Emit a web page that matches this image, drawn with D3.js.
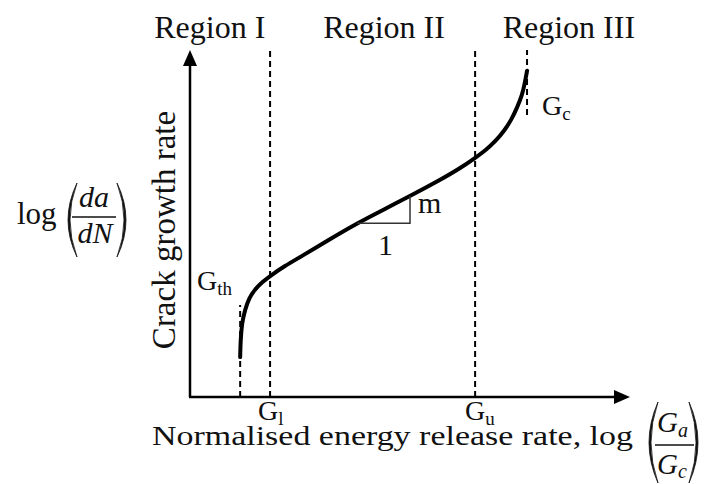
<!DOCTYPE html>
<html>
<head>
<meta charset="utf-8">
<script src="https://cdn.jsdelivr.net/npm/d3@7"></script>
<style>
  body { margin: 0; background: #fff; }
  text { font-family: "Liberation Serif", "DejaVu Serif", serif; fill: #111; }
</style>
</head>
<body>
<script>
// data (x = log(Ga/Gc), y = log(da/dN), arbitrary units 0..10)
var curveX = [1.14, 1.15, 1.18, 1.25, 1.34, 1.48, 1.64, 1.82, 2.16, 2.50, 3.18, 3.80, 4.43, 5.00, 5.68, 6.14, 6.48, 6.73, 6.95, 7.14, 7.30, 7.43, 7.55, 7.61, 7.66];
var curveY = [1.15, 1.64, 2.13, 2.51, 2.85, 3.11, 3.31, 3.49, 3.78, 4.03, 4.55, 5.01, 5.42, 5.79, 6.25, 6.59, 6.89, 7.12, 7.38, 7.67, 7.98, 8.33, 8.70, 9.05, 9.40];

var thresholdNames = ["th", "l", "u", "c"];
var thresholdX = [1.14, 1.82, 6.48, 7.66];
var thresholdY0 = [0, 0, 0, 8.13];
var thresholdY1 = [2.65, 10, 10, 10];

var regionNames = ["Region I", "Region II", "Region III"];
var regionX = [0.45, 4.41, 8.61];

var slopeX = [3.80, 5.00];
var slopeY = [5.01, 5.79];

var svg = d3.select("body").append("svg")
    .attr("width", 707)
    .attr("height", 484);

//Scales______________________________________________________________
var x = d3.scaleLinear().domain([0, 10]).range([190, 630]);
var y = d3.scaleLinear().domain([0, 10]).range([397, 50]);

//Axes with arrow heads_______________________________________________
svg.append("line")
    .attr("x1", x(0)).attr("y1", y(0))
    .attr("x2", x(0)).attr("y2", y(9.6))
    .attr("stroke", "#000").attr("stroke-width", 2.5);
svg.append("path")
    .attr("d", "M" + x(0) + "," + y(10) + " L" + (x(0) - 7) + "," + (y(10) + 16) + " L" + (x(0) + 7) + "," + (y(10) + 16) + "Z")
    .attr("fill", "#000");

svg.append("line")
    .attr("x1", x(0) - 1).attr("y1", y(0))
    .attr("x2", x(9.7)).attr("y2", y(0))
    .attr("stroke", "#000").attr("stroke-width", 2.5);
svg.append("path")
    .attr("d", "M" + x(10) + "," + y(0) + " L" + (x(10) - 16) + "," + (y(0) - 7) + " L" + (x(10) - 16) + "," + (y(0) + 7) + "Z")
    .attr("fill", "#000");

//Dashed threshold lines______________________________________________
thresholdX.forEach(function(tx, i) {
    svg.append("line")
        .attr("x1", x(tx)).attr("x2", x(tx))
        .attr("y1", y(thresholdY0[i])).attr("y2", y(thresholdY1[i]))
        .attr("stroke", "#000")
        .attr("stroke-width", 2)
        .attr("stroke-dasharray", "6,4");
});

//Curve_______________________________________________________________
var pts = curveX.map(function(d, i) { return [d, curveY[i]]; });
var line = d3.line()
    .x(function(d) { return x(d[0]); })
    .y(function(d) { return y(d[1]); })
    .curve(d3.curveBasis);

svg.append("path")
    .datum(pts)
    .attr("d", line)
    .attr("fill", "none")
    .attr("stroke", "#000")
    .attr("stroke-width", 4)
    .attr("stroke-linecap", "round");

//Slope triangle
svg.append("path")
    .attr("d", "M" + x(slopeX[0]) + "," + y(slopeY[0]) + " L" + x(slopeX[1]) + "," + y(slopeY[0]) + " L" + x(slopeX[1]) + "," + y(slopeY[1]))
    .attr("fill", "none")
    .attr("stroke", "#333")
    .attr("stroke-width", 1.5);

svg.append("text")
    .attr("x", x(slopeX[1]) + 8).attr("y", 213)
    .attr("font-size", "30px")
    .text("m");
svg.append("text")
    .attr("x", (x(slopeX[0]) + x(slopeX[1])) / 2 + 2).attr("y", 255)
    .attr("text-anchor", "middle")
    .attr("font-size", "30px")
    .text("1");

//Region labels________________________________________________________
svg.selectAll(".region")
    .data(regionNames)
    .enter().append("text")
    .attr("class", "region")
    .attr("x", function(d, i) { return x(regionX[i]); })
    .attr("y", 38)
    .attr("text-anchor", "middle")
    .attr("font-size", "32px")
    .text(function(d) { return d; });

//G labels
function gLabel(px, py, sub) {
    var t = svg.append("text")
        .attr("x", px).attr("y", py)
        .attr("font-size", "28px");
    t.append("tspan").text("G");
    t.append("tspan").attr("dy", 5).attr("font-size", "19px").text(sub);
}
gLabel(197, 290, thresholdNames[0]);
gLabel(x(thresholdX[1]) - 12, 420, thresholdNames[1]);
gLabel(x(thresholdX[2]) - 10, 420, thresholdNames[2]);
gLabel(542, 115, thresholdNames[3]);

//Y axis label_________________________________________________________
svg.append("text")
    .attr("transform", "translate(175,230) rotate(-90)")
    .attr("text-anchor", "middle")
    .attr("font-size", "33px")
    .text("Crack growth rate");

// log(da/dN)
function bigParens(x0, x1, top, bottom) {
    var mid = (top + bottom) / 2;
    svg.append("path")
        .attr("d", "M" + (x0 + 12) + "," + top + " Q" + (x0 - 6) + "," + mid + " " + (x0 + 12) + "," + bottom +
                   " Q" + (x0 - 2) + "," + mid + " " + (x0 + 12) + "," + top + "Z")
        .attr("fill", "#111").attr("stroke", "#111").attr("stroke-width", 0.8);
    svg.append("path")
        .attr("d", "M" + (x1 - 12) + "," + top + " Q" + (x1 + 6) + "," + mid + " " + (x1 - 12) + "," + bottom +
                   " Q" + (x1 + 2) + "," + mid + " " + (x1 - 12) + "," + top + "Z")
        .attr("fill", "#111").attr("stroke", "#111").attr("stroke-width", 0.8);
}

svg.append("text")
    .attr("x", 17).attr("y", 224)
    .attr("font-size", "31px")
    .text("log");
bigParens(65, 129, 183, 257);
svg.append("text")
    .attr("x", 94).attr("y", 207)
    .attr("text-anchor", "middle")
    .attr("font-size", "30px")
    .attr("font-style", "italic")
    .text("da");
svg.append("line")
    .attr("x1", 72).attr("x2", 116).attr("y1", 217).attr("y2", 217)
    .attr("stroke", "#111").attr("stroke-width", 1.6);
svg.append("text")
    .attr("x", 95).attr("y", 243)
    .attr("text-anchor", "middle")
    .attr("font-size", "30px")
    .attr("font-style", "italic")
    .text("dN");

//X axis label_________________________________________________________
svg.append("text")
    .attr("x", 152).attr("y", 445)
    .attr("font-size", "27px")
    .attr("textLength", 481)
    .attr("lengthAdjust", "spacingAndGlyphs")
    .text("Normalised energy release rate, log");

bigParens(646, 701, 402, 483);
var ga = svg.append("text")
    .attr("x", 657).attr("y", 432)
    .attr("font-size", "29px")
    .attr("font-style", "italic");
ga.append("tspan").text("G");
ga.append("tspan").attr("dy", 5).attr("font-size", "20px").text("a");
svg.append("line")
    .attr("x1", 655).attr("x2", 694).attr("y1", 445).attr("y2", 445)
    .attr("stroke", "#111").attr("stroke-width", 1.6);
var gc = svg.append("text")
    .attr("x", 657).attr("y", 474)
    .attr("font-size", "29px")
    .attr("font-style", "italic");
gc.append("tspan").text("G");
gc.append("tspan").attr("dy", 4).attr("font-size", "20px").text("c");
</script>
</body>
</html>
